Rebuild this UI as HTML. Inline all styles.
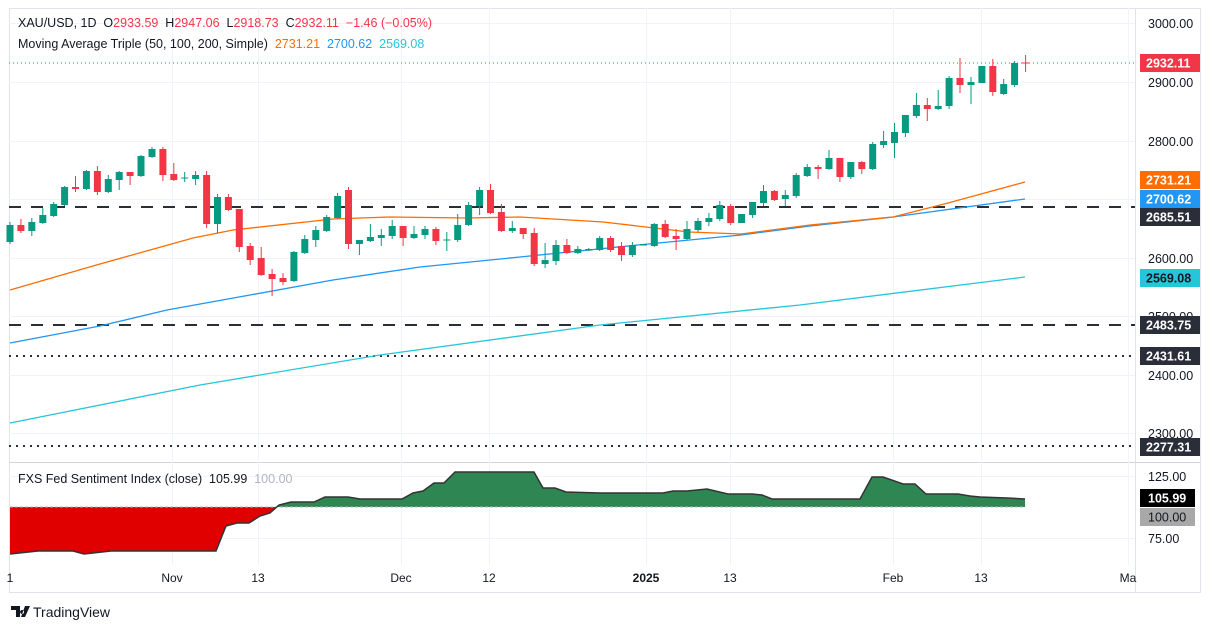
<!DOCTYPE html>
<html><head><meta charset="utf-8"><style>
body{margin:0;background:#fff;width:1212px;height:630px;overflow:hidden;font-family:"Liberation Sans",sans-serif}
svg{position:absolute;left:0;top:0}
text{font-family:"Liberation Sans",sans-serif}
</style></head><body>
<svg width="1212" height="630" viewBox="0 0 1212 630">
<rect x="9.5" y="8.5" width="1191" height="584" fill="none" stroke="#e0e3eb"/>
<line x1="1135.5" y1="8" x2="1135.5" y2="592" stroke="#e0e3eb"/>
<line x1="9" y1="462.5" x2="1200" y2="462.5" stroke="#d1d4dc"/>
<g stroke="#f0f3fa" stroke-width="1">
<line x1="9" y1="23.5" x2="1135" y2="23.5"/><line x1="9" y1="82.5" x2="1135" y2="82.5"/>
<line x1="9" y1="141.5" x2="1135" y2="141.5"/><line x1="9" y1="199.5" x2="1135" y2="199.5"/>
<line x1="9" y1="258.5" x2="1135" y2="258.5"/><line x1="9" y1="316.5" x2="1135" y2="316.5"/>
<line x1="9" y1="375.5" x2="1135" y2="375.5"/><line x1="9" y1="433.5" x2="1135" y2="433.5"/>
<line x1="9" y1="476.5" x2="1135" y2="476.5"/><line x1="9" y1="538.5" x2="1135" y2="538.5"/>
<line x1="172.5" y1="8" x2="172.5" y2="565"/><line x1="258.5" y1="8" x2="258.5" y2="565"/>
<line x1="401.5" y1="8" x2="401.5" y2="565"/><line x1="489.5" y1="8" x2="489.5" y2="565"/>
<line x1="646.5" y1="8" x2="646.5" y2="565"/><line x1="730.5" y1="8" x2="730.5" y2="565"/>
<line x1="893.5" y1="8" x2="893.5" y2="565"/><line x1="981.5" y1="8" x2="981.5" y2="565"/>
<line x1="1128.5" y1="8" x2="1128.5" y2="565"/>
</g>
<line x1="9" y1="207" x2="1135" y2="207" stroke="#2a2e39" stroke-width="2" stroke-dasharray="12,10"/>
<line x1="9" y1="325" x2="1135" y2="325" stroke="#2a2e39" stroke-width="2" stroke-dasharray="12,10"/>
<line x1="9" y1="356" x2="1135" y2="356" stroke="#2a2e39" stroke-width="2" stroke-dasharray="2,5"/>
<line x1="9" y1="446" x2="1135" y2="446" stroke="#2a2e39" stroke-width="2" stroke-dasharray="2,5"/>
<line x1="9" y1="63" x2="1135" y2="63" stroke="#F23645" stroke-width="1" stroke-dasharray="1,3"/>
<polyline fill="none" stroke="#26C6DA" stroke-width="1.3" points="10,423 200,385 380,355 600,325 800,305 1025,277"/>
<polyline fill="none" stroke="#2196F3" stroke-width="1.3" points="10,343 100,326 167,310 250,295 333,280 420,267 520,257 638,245 741,235 810,226 893,217 1025,199"/>
<polyline fill="none" stroke="#FF6D00" stroke-width="1.3" points="10,290 100,264 193,238 233,230 333,219 390,217 467,218 520,217 603,222 689,232 741,234 810,225 893,217 948,203 1025,182"/>
<path stroke="#089981" stroke-width="1" fill="none" d="M10 222V244M31.8 218V236M42.8 208V224M53.7 202V217M64.6 186V206M86.4 170V190M108.3 175V193M119.2 171V190M141 155V177M152 147V158M184.7 172V182M195.6 171V185M217.5 194V233M293.9 251V282M304.8 235V254M315.8 226V247M326.7 215V232M337.6 193V219M359.4 240V255M370.4 224V242M381.3 229V246M392.2 220V239M414 226V239M425 226V239M446.8 232V251M457.7 214V242M468.6 202V226M479.6 187V215M512.3 221V233M545.1 243V268M556 240V265M577.8 246V254M588.8 248V251M599.7 236V251M632.4 242V257M643.4 244V245M654.3 223V247M687 221V240M698 218V232M708.9 213V226M719.8 201V221M741.6 214V223M752.6 202V218M763.5 185V206M785.3 190V206M796.2 173V198M807.2 164V177M829 150V170M850.8 162V179M872.7 142V170M883.6 131V148M894.5 123V158M905.4 115V137M916.4 93V118M938.2 90V110M949.1 76V109M971 77V104M981.9 66V83M1003.7 79V95M1014.6 61V87"/>
<path stroke="#089981" stroke-width="7" fill="none" d="M10 225V242M31.8 222V231M42.8 215V223M53.7 204V216M64.6 187V205M86.4 171V189M108.3 179V192M119.2 172V180M141 156V176M152 149V157M184.7 177.5V178.5M195.6 175V179M217.5 197V224M293.9 252V281M304.8 239V253M315.8 230V240M326.7 217V231M337.6 196V218M359.4 240V244M370.4 237V241M381.3 235V238M392.2 226V236M414 234V238M425 229V235M446.8 239.5V240.5M457.7 225V240M468.6 205V225M479.6 190V206M512.3 228V231M545.1 260V264M556 245V261M577.8 249V253M588.8 249V250.5M599.7 238V250M632.4 245V255M643.4 244V245.5M654.3 224V246M687 229V239M698 221V230M708.9 218V222M719.8 205V219M741.6 214V223M752.6 202V215M763.5 191V203M785.3 195V199M796.2 175V196M807.2 167V176M829 158V169M850.8 162V177M872.7 144V169M883.6 141V145M894.5 132V143M905.4 115V133M916.4 105V116M938.2 106V109M949.1 78V106M971 82V85M981.9 66V83M1003.7 84V94M1014.6 63V85"/>
<path stroke="#F23645" stroke-width="1" fill="none" d="M20.9 219V233M75.5 176V192M97.4 166V195M130.1 172V185M162.9 147V181M173.8 163V181M206.6 171V228M228.4 194V211M239.3 209V252M250.2 243V265M261.2 247V276M272.1 269V296M283 273V285M348.5 187V249M403.1 226V246M435.9 227V245M490.5 184V214M501.4 204V232M523.2 228V239M534.2 228V266M566.9 239V254M610.6 236V252M621.5 242V261M665.2 220V238M676.1 229V250M730.7 204V225M774.4 190V201M818.1 165V179M839.9 158V182M861.8 161V174M927.3 98V121M960 58V93M992.8 59V96M1025.6 55V72"/>
<path stroke="#F23645" stroke-width="7" fill="none" d="M20.9 225V231M75.5 187V189M97.4 171V192M130.1 172V176M162.9 149V175M173.8 174V180M206.6 175V224M228.4 197V210M239.3 209V247M250.2 246V260M261.2 258V275M272.1 274V279M283 278V282M348.5 190V244M403.1 226V238M435.9 229V241M490.5 190V213M501.4 212V231M523.2 228V234M534.2 233V264M566.9 245V253M610.6 238V250M621.5 246V255M665.2 224V237M676.1 236V239M730.7 206V223M774.4 191V200M818.1 167V169M839.9 158V177M861.8 162V169M927.3 105V109M960 78V85M992.8 66V92M1025.6 62.5V63.5"/>
<polygon fill="#e00000" points="10,507 10,554 38,551 73,551 84,554 111,551 216,551 226,526 237,523 249,523 260,516 270,513 277,507"/>
<polygon fill="#2e8653" points="277,507 279,505 291,502 314,502 325,497 348,497 360,499 402,499 413,493 423,491 434,483 444,483 455,472 534,472 543,488 555,488 566,492 600,493 663,493 673,491 687,491 707,489 728,494 752,494 762,495 772,499 860,499 872,477 883,477 903,484 915,484 926,494 958,494 970,496 980,497 1007,498 1025,499 1025,507"/>
<line x1="10" y1="507" x2="1025" y2="507" stroke="#b2b5be" stroke-width="1" stroke-dasharray="3,2"/>
<polyline fill="none" stroke="#333" stroke-width="1.5" points="10,554 38,551 73,551 84,554 111,551 216,551 226,526 237,523 249,523 260,516 270,513 279,505 291,502 314,502 325,497 348,497 360,499 402,499 413,493 423,491 434,483 444,483 455,472 534,472 543,488 555,488 566,492 600,493 663,493 673,491 687,491 707,489 728,494 752,494 762,495 772,499 860,499 872,477 883,477 903,484 915,484 926,494 958,494 970,496 980,497 1007,498 1025,499"/>
<text x="18" y="27" font-size="12.5" fill="#131722" xml:space="preserve">XAU/USD, 1D  O<tspan fill="#F23645">2933.59</tspan>  H<tspan fill="#F23645">2947.06</tspan>  L<tspan fill="#F23645">2918.73</tspan>  C<tspan fill="#F23645">2932.11</tspan>  <tspan fill="#F23645">−1.46 (−0.05%)</tspan></text>
<text x="18" y="48" font-size="12.5" fill="#131722" xml:space="preserve">Moving Average Triple (50, 100, 200, Simple)  <tspan fill="#FF6D00">2731.21</tspan>  <tspan fill="#2196F3">2700.62</tspan>  <tspan fill="#26C6DA">2569.08</tspan></text>
<text x="18" y="483" font-size="12.5" fill="#131722" xml:space="preserve">FXS Fed Sentiment Index (close)  105.99  <tspan fill="#b2b5be">100.00</tspan></text>
<g font-size="12.5" fill="#131722">
<text x="1148" y="28">3000.00</text><text x="1148" y="87">2900.00</text>
<text x="1148" y="146">2800.00</text><text x="1148" y="263">2600.00</text>
<text x="1148" y="321">2500.00</text><text x="1148" y="380">2400.00</text>
<text x="1148" y="438">2300.00</text><text x="1148" y="481">125.00</text><text x="1148" y="543">75.00</text>
</g>
<g font-size="12.5" font-weight="bold" fill="#fff">
<rect x="1140" y="54" width="60" height="18" fill="#F23645"/><text x="1146" y="67.5">2932.11</text>
<rect x="1140" y="171" width="60" height="18" fill="#FF6D00"/><text x="1146" y="184.5">2731.21</text>
<rect x="1140" y="190" width="60" height="18" fill="#2196F3"/><text x="1146" y="203.5">2700.62</text>
<rect x="1140" y="208" width="60" height="18" fill="#2a2e39"/><text x="1146" y="221.5">2685.51</text>
<rect x="1140" y="269" width="60" height="18" fill="#26C6DA"/><text x="1146" y="282.5" fill="#131722">2569.08</text>
<rect x="1140" y="316" width="60" height="18" fill="#2a2e39"/><text x="1146" y="329.5">2483.75</text>
<rect x="1140" y="347" width="60" height="18" fill="#2a2e39"/><text x="1146" y="360.5">2431.61</text>
<rect x="1140" y="438" width="60" height="18" fill="#2a2e39"/><text x="1146" y="451.5">2277.31</text>
<rect x="1140" y="489" width="55" height="18" fill="#000"/><text x="1148" y="502.5">105.99</text>
<rect x="1140" y="508" width="55" height="18" fill="#a8a8a8"/><text x="1148" y="521.5" fill="#131722" font-weight="normal">100.00</text>
</g>
<g font-size="12" fill="#131722" text-anchor="middle">
<text x="10" y="582">1</text><text x="172" y="582">Nov</text><text x="258" y="582">13</text>
<text x="401" y="582">Dec</text><text x="489" y="582">12</text>
<text x="646" y="582" font-weight="bold">2025</text><text x="730" y="582">13</text>
<text x="893" y="582">Feb</text><text x="981" y="582">13</text><text x="1128" y="582">Ma</text>
</g>
<path d="M11 606h9v11h-4v-7h-5z M22 610a2 2 0 1 0 0.1 0z M25 606h5l-5 11h-4z" fill="#131722"/>
<text x="33" y="617" font-size="14" fill="#131722">TradingView</text>
</svg>
</body></html>
